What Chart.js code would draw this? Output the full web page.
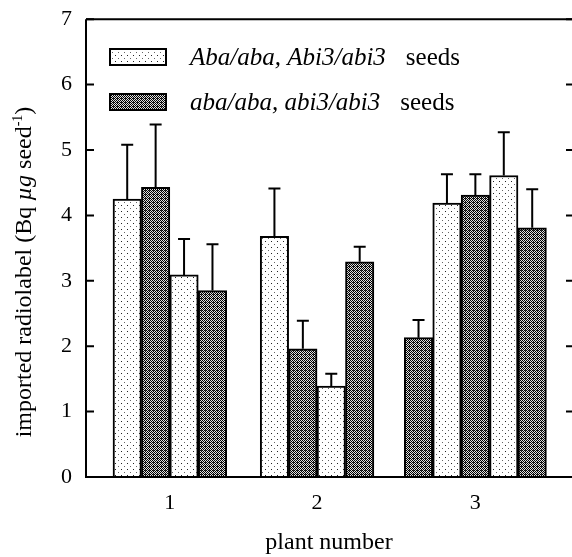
<!DOCTYPE html>
<html>
<head>
<meta charset="utf-8">
<script src="https://cdn.jsdelivr.net/npm/chart.js@4.4.1/dist/chart.umd.min.js"></script>
<style>
  html, body { margin: 0; padding: 0; background: #fff; }
  #wrap { width: 572px; height: 557px; }
</style>
</head>
<body>
<div id="wrap"><canvas id="myChart" width="572" height="557"></canvas></div>
<script>
// data
const plants = ["1", "2", "3"];
const genotypes = ["Aba/aba, Abi3/abi3", "aba/aba, abi3/abi3"];
const barPlant = [0, 0, 0, 0, 1, 1, 1, 1, 2, 2, 2, 2, 2];
const barGenotype = [0, 1, 0, 1, 0, 1, 0, 1, 1, 0, 1, 0, 1];
const means = [4.25, 4.43, 3.09, 2.85, 3.68, 1.96, 1.39, 3.29, 2.13, 4.19, 4.31, 4.61, 3.81];
const errors = [0.83, 0.96, 0.55, 0.71, 0.73, 0.43, 0.19, 0.23, 0.27, 0.44, 0.32, 0.66, 0.59];
const yTicks = [0, 1, 2, 3, 4, 5, 6, 7];

// layout: where each plant group starts, in bar widths
const groupStart = [0.95, 6.13, 11.2];
const xMax = 17.1;

const serif = "'Liberation Serif', 'Times New Roman', serif";

// fill patterns
function makePattern(light) {
  const c = document.createElement("canvas");
  const g = c.getContext("2d");
  if (light) {
    c.width = 6; c.height = 6;
    g.fillStyle = "#fff";
    g.fillRect(0, 0, 6, 6);
    g.fillStyle = "#222";
    g.fillRect(1, 1, 1, 1);
    g.fillStyle = "#666";
    g.fillRect(4, 4, 1, 1);
  } else {
    c.width = 4; c.height = 4;
    for (let i = 0; i < 4; i++) {
      for (let j = 0; j < 4; j++) {
        g.fillStyle = (i + j) % 2 === 0 ? "#000" : "#e0e0e0";
        g.fillRect(i, j, 1, 1);
      }
    }
    g.fillStyle = "#333";
    g.fillRect(1, 2, 1, 1);
  }
  return g.createPattern(c, "repeat");
}
const ctx = document.getElementById("myChart").getContext("2d");
const fills = [makePattern(true), makePattern(false)];

// positions of bars, per group
const counts = [0, 0, 0];
const points = means.map((m, i) => {
  const g = barPlant[i];
  const x = groupStart[g] + counts[g] + 0.5;
  counts[g]++;
  return { x: x, y: m };
});
const groupCenters = plants.map((p, g) => groupStart[g] + counts[g] / 2);

// frame, ticks, error bars, legend, y title
const decor = {
  id: "decor",
  afterDatasetsDraw(chart) {
    const c = chart.ctx;
    const xs = chart.scales.x, ys = chart.scales.y;
    const a = chart.chartArea;
    c.save();
    c.strokeStyle = "#000";
    c.lineWidth = 2;

    // error bars
    points.forEach((p, i) => {
      const px = xs.getPixelForValue(p.x);
      const y0 = ys.getPixelForValue(p.y);
      const y1 = ys.getPixelForValue(p.y + errors[i]);
      c.beginPath();
      c.moveTo(px, y0);
      c.lineTo(px, y1);
      c.moveTo(px - 6, y1);
      c.lineTo(px + 6, y1);
      c.stroke();
    });

    // axes
    c.beginPath();
    c.moveTo(a.left, a.top);
    c.lineTo(a.right, a.top);
    c.moveTo(a.left, a.top);
    c.lineTo(a.left, a.bottom);
    c.lineTo(a.right, a.bottom);
    c.stroke();
    yTicks.forEach(v => {
      const py = ys.getPixelForValue(v);
      c.beginPath();
      c.moveTo(a.left, py);
      c.lineTo(a.left + 8, py);
      c.moveTo(a.right - 6, py);
      c.lineTo(a.right, py);
      c.stroke();
    });

    // legend
    c.fillStyle = "#000";
    c.textBaseline = "alphabetic";
    genotypes.forEach((name, k) => {
      const by = 49 + k * 45;
      c.fillStyle = fills[k];
      c.fillRect(110, by, 56, 16);
      c.strokeRect(110, by, 56, 16);
      c.fillStyle = "#000";
      c.font = "italic 25px " + serif;
      c.fillText(name, 190, by + 16);
      const w = c.measureText(name).width;
      c.font = "25px " + serif;
      c.fillText("seeds", 190 + w + 20, by + 16);
    });

    // y axis title
    c.translate(31, 272);
    c.rotate(-Math.PI / 2);
    const parts = [
      ["imported radiolabel (Bq ", "24px", 0],
      ["\u00b5g", "italic 24px", 0],
      [" seed", "24px", 0],
      ["-1", "14px", -9],
      [")", "24px", 0]
    ];
    let total = 0;
    parts.forEach(p => { c.font = p[1] + " " + serif; total += c.measureText(p[0]).width; });
    let x = -total / 2;
    parts.forEach(p => {
      c.font = p[1] + " " + serif;
      c.fillText(p[0], x, p[2]);
      x += c.measureText(p[0]).width;
    });
    c.restore();
  }
};

const config = {
  type: "bar",
  data: {
    datasets: [
      {
        data: points,
        backgroundColor: (context) => fills[barGenotype[context.dataIndex]],
        borderColor: "#000",
        borderWidth: 2,
        categoryPercentage: 1,
        barPercentage: 1,
      },
    ],
  },
  options: {
    responsive: false,
    animation: false,
    layout: { padding: { top: 17, right: 0, left: 0, bottom: 0 } },
    plugins: {
      legend: { display: false },
      tooltip: { enabled: false },
    },
    scales: {
      x: {
        type: "linear",
        min: 0,
        max: xMax,
        offset: false,
        grid: { display: false },
        border: { display: false },
        afterBuildTicks: (scale) => {
          scale.ticks = groupCenters.map(v => ({ value: v }));
        },
        afterFit: (scale) => { scale.height = 80; },
        ticks: {
          color: "#000",
          font: { family: serif, size: 22 },
          padding: 5,
          maxRotation: 0,
          callback: function (value, index) {
            return plants[index];
          },
        },
        title: {
          display: true,
          text: "plant number",
          color: "#000",
          font: { family: serif, size: 24 },
          padding: { top: 16, bottom: 0 },
        },
      },
      y: {
        min: 0,
        max: 7,
        grid: { display: false },
        border: { display: false },
        afterFit: (scale) => { scale.width = 86; },
        afterBuildTicks: (scale) => {
          scale.ticks = yTicks.map(v => ({ value: v }));
        },
        ticks: {
          color: "#000",
          font: { family: serif, size: 22 },
          padding: 6,
        },
      },
    },
  },
  plugins: [decor],
};

const myChart = new Chart(ctx, config);
</script>
</body>
</html>
